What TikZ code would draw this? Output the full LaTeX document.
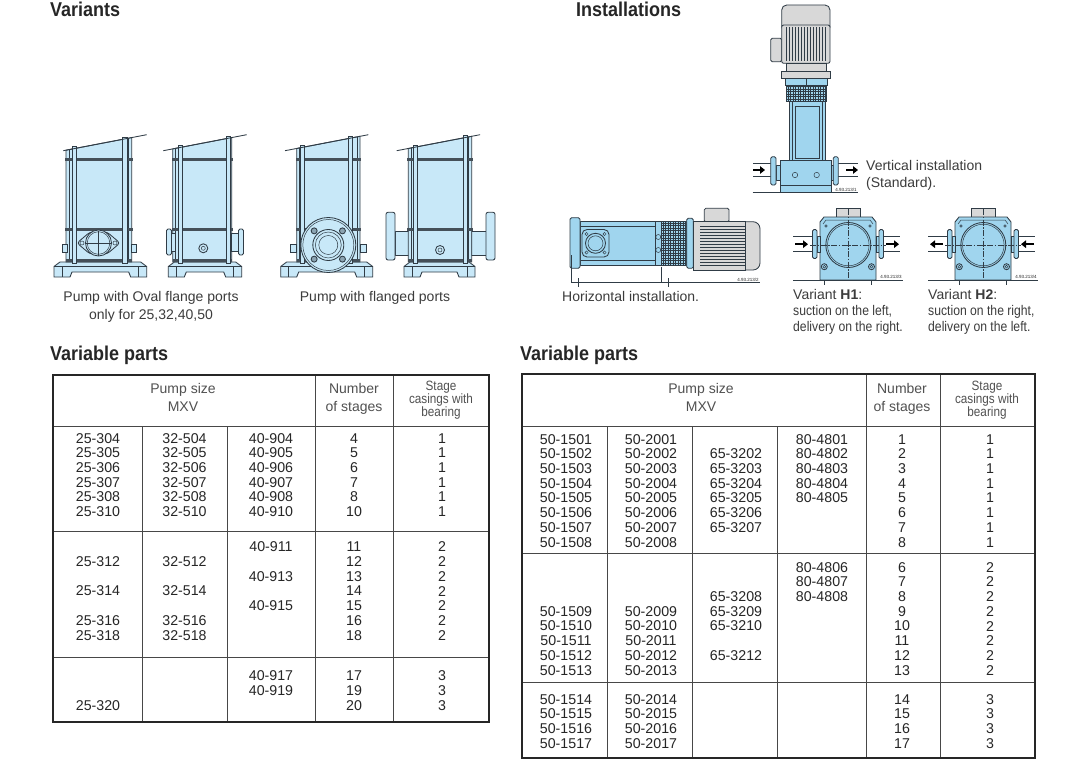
\documentclass[tikz,border=0pt]{standalone}
\usepackage{fontspec}
\setmainfont{Liberation Sans}
\newfontfamily\narrowfont[FakeStretch=0.87]{Liberation Sans}
\newfontfamily\headfont[FakeStretch=0.9]{Liberation Sans}
\usetikzlibrary{arrows.meta}

\definecolor{pumpblue}{RGB}{200,232,248}
\definecolor{instblue}{RGB}{160,213,238}
\definecolor{edgegray}{RGB}{48,60,70}
\definecolor{motorgray}{RGB}{216,216,216}
\definecolor{inkgray}{RGB}{38,38,38}

\tikzset{
  heading/.style={anchor=base west, inner sep=0pt, text=inkgray, font=\headfont\fontsize{20}{20}\selectfont\bfseries},
  caption/.style={anchor=base, inner sep=0pt, text=inkgray!90, font=\fontsize{14}{14}\selectfont},
  leftcaption/.style={caption, anchor=base west},
  narrowcaption/.style={leftcaption, font=\narrowfont\fontsize{14}{14}\selectfont},
  cell/.style={inner sep=0pt, text=inkgray, font=\fontsize{14.2}{14.2}\selectfont},
  headcell/.style={anchor=base, inner sep=0pt, text=inkgray!80, font=\fontsize{14}{14}\selectfont},
  stagecell/.style={headcell, font=\narrowfont\fontsize{13.5}{13.5}\selectfont},
  tinytag/.style={inner sep=0pt, text=inkgray, font=\fontsize{4.5}{4.5}\selectfont},
  tableframe/.style={draw=inkgray, line width=1.8pt},
  tablerule/.style={draw=inkgray!85, line width=0.9pt},
  pumpline/.style={draw=edgegray, line width=0.85pt},
  pumpthin/.style={draw=edgegray, line width=0.5pt},
  ringband/.style={fill=edgegray!90},
  flowarrow/.style={line width=2.4pt, -{Triangle[length=5pt, width=7.5pt]}},
  axisline/.style={draw=edgegray, line width=0.55pt, dash pattern=on 6pt off 1.5pt on 1.5pt off 1.5pt},
}

\begin{document}
\begin{tikzpicture}[x=1pt, y=-1pt]
\useasboundingbox[fill=white] (0,0) rectangle (1087,765);

% headings
\node[heading] (variants) at (50,16.5) {Variants};
\node[heading] (installations) at (576,16.5) {Installations};
\node[heading] (partsleft) at (50,360) {Variable parts};
\node[heading] (partsright) at (520,360) {Variable parts};

% ---------------- variants ----------------
% pipe stubs of the flanged side view (behind the barrel)
\filldraw[pumpline, fill=pumpblue] (395,231.7) rectangle (409,255);
\filldraw[pumpline, fill=pumpblue, rounded corners=2pt] (386,212.3) rectangle (395,260);
\filldraw[pumpline, fill=pumpblue] (471,231.7) rectangle (486,255);
\filldraw[pumpline, fill=pumpblue, rounded corners=2pt] (486,212.3) rectangle (495,260);

\foreach \cx/\bl/\br/\ra/\rb/\ba/\bb in {63.3/66/131.7/72/122.7/54/146.7, 163.3/172.7/231.7/178.3/226/168.3/241.7, 285/296.7/360/300/348.3/280.7/372.7, 396.7/408.3/471.7/413.3/463.3/404/475}{
  \filldraw[pumpline, fill=pumpblue] (\ba,266.5) -- (\ba+6,262) -- (\bb-6,262) -- (\bb,266.5) -- (\bb,277) -- (\bb-16,277) -- (\bb-18,272) -- (\ba+18,272) -- (\ba+16,277) -- (\ba,277) -- cycle;
  \draw[pumpthin] (\ba,266.5) -- (\bb,266.5) (\ba+8,266.5) -- (\ba+8,277) (\bb-8,266.5) -- (\bb-8,277);
  \filldraw[pumpline, fill=pumpblue] (\bl,{150.7-0.1918*(\bl-\cx)}) -- (\br,{150.7-0.1918*(\br-\cx)}) -- (\br,262) -- (\bl,262) -- cycle;
  \draw[pumpthin] (\bl+3,{150.7-0.1918*(\bl+3-\cx)}) -- (\bl+3,262) (\br-3,{150.7-0.1918*(\br-3-\cx)}) -- (\br-3,262);
  \fill[ringband] (\bl-1,157.8) rectangle (\br+1,161);
  \fill[ringband] (\bl-1,227.5) rectangle (\br+1,230.7);
  \fill[ringband] (\bl,258.5) rectangle (\br,262);
  \filldraw[pumpline, fill=pumpblue] (\ra,{148.5-0.1918*(\ra-\cx)}) rectangle (\ra+4.5,263);
  \filldraw[pumpline, fill=pumpblue] (\rb,{148.5-0.1918*(\rb-\cx)}) rectangle (\rb+4.5,263);
  \draw[pumpline] (\cx,150.7) -- (\cx+83.4,134.7);
}

% oval flange, front
\filldraw[pumpline, fill=pumpblue, rounded corners=3pt] (77,243) -- (90,232) -- (107,232) -- (120,243) -- (107,254) -- (90,254) -- cycle;
\filldraw[pumpline, fill=pumpblue] (98.5,243) circle (13);
\draw[pumpthin] (98.5,243) circle (11.3);
\draw[pumpthin] (98.5,230.5) -- (98.5,255.5) (86,243) -- (111,243);
\draw[pumpthin] (82,243) circle (2) (115,243) circle (2);
\filldraw[pumpline, fill=pumpblue] (62,244) rectangle (67,252);
\filldraw[pumpline, fill=pumpblue] (131.5,244) rectangle (136.5,252);

% oval flange, side
\filldraw[pumpline, fill=pumpblue] (171.5,233) rectangle (175,251);
\filldraw[pumpline, fill=pumpblue, rounded corners=1.5pt] (166.5,229) rectangle (171.5,255);
\filldraw[pumpline, fill=pumpblue] (231.7,233) rectangle (238.5,251);
\filldraw[pumpline, fill=pumpblue, rounded corners=1.5pt] (238.5,229) rectangle (243.5,255);
\filldraw[pumpline, fill=pumpblue] (203.3,248.3) circle (4.5);
\draw[pumpthin] (203.3,248.3) circle (2);

% round flange, front
\filldraw[pumpline, fill=pumpblue] (290,244) rectangle (296,252);
\filldraw[pumpline, fill=pumpblue] (360.5,244) rectangle (366.5,252);
\filldraw[pumpline, fill=pumpblue] (328.3,245) circle (27.5);
\draw[pumpthin] (328.3,245) circle (25.5);
\draw[pumpline] (328.3,245) circle (15.5);
\draw[pumpthin] (328.3,245) circle (13);
\draw[pumpthin] (328.3,245) circle (9.5);
\foreach \ang in {45,135,225,315}
  \filldraw[pumpline, fill=pumpblue!60!edgegray] (328.3,245) ++(\ang:20) circle (3);

% round flange, side
\filldraw[pumpline, fill=pumpblue] (440,250) circle (4.5);
\draw[pumpthin] (440,250) circle (2);

\node[caption] (ovalcap) at (151,301) {Pump with Oval flange ports};
\node[caption] (ovalnote) at (151,319) {only for 25,32,40,50};
\node[caption] (flangecap) at (375,301) {Pump with flanged ports};

% ---------------- vertical installation ----------------
\draw[pumpline] (753.3,163.3) -- (770.7,163.3) (753.3,176.7) -- (770.7,176.7);
\draw[pumpline] (838.3,163.3) -- (858.3,163.3) (838.3,176.7) -- (858.3,176.7);
\filldraw[pumpline, fill=motorgray, rounded corners=1.5pt] (770.7,38.3) rectangle (781.7,61.7);
\filldraw[pumpline, fill=motorgray, rounded corners=5pt] (781.7,5) rectangle (830,32);
\filldraw[pumpline, fill=motorgray, rounded corners=2pt] (781.7,25) rectangle (830,63.3);
\foreach \x in {786,789,...,827} \draw[pumpthin] (\x,27) -- (\x,61.5);
\filldraw[pumpline, fill=motorgray] (786.7,63.3) rectangle (826.7,71.7);
\filldraw[pumpline, fill=motorgray] (781.7,71.7) rectangle (830,78.3);
\filldraw[pumpline, fill=instblue] (785,78.3) rectangle (827.3,85);
\draw[pumpthin] (806,78.3) -- (806,85);
\fill[instblue] (786.7,85) rectangle (826.7,101.7);
\foreach \x in {788,790.5,...,826} \draw[pumpthin] (\x,85) -- (\x,101.7);
\foreach \y in {86.5,89,...,101} \draw[pumpthin] (786.7,\y) -- (826.7,\y);
\draw[pumpline] (786.7,85) rectangle (826.7,101.7);
\filldraw[pumpline, fill=instblue] (789.3,101.7) rectangle (825,163);
\draw[pumpthin] (795,106) rectangle (819,158);
\draw[pumpthin] (792,101.7) -- (792,163) (822.3,101.7) -- (822.3,163);
\filldraw[pumpline, fill=instblue] (776,165) rectangle (780,180);
\filldraw[pumpline, fill=instblue, rounded corners=1.5pt] (770.7,156.7) rectangle (776,185);
\filldraw[pumpline, fill=instblue] (831.7,165) rectangle (833.3,180);
\filldraw[pumpline, fill=instblue, rounded corners=1.5pt] (833.3,156.7) rectangle (838.3,185);
\filldraw[pumpline, fill=instblue] (780,160) rectangle (831.7,185);
\draw[pumpthin] (795,175) circle (2.7) (816.7,175) circle (2.7);
\filldraw[pumpline, fill=instblue] (780,185) rectangle (831.7,192.3);
\draw[pumpline] (752.7,192.3) -- (858.3,192.3);
\draw[flowarrow] (753,170) -- (765,170);
\draw[flowarrow] (846,170) -- (858,170);
\node[tinytag, anchor=south] (tag1) at (846,191.5) {4.93.213/1};
\node[leftcaption] (vertcap) at (866,171) {Vertical installation};
\node[leftcaption] (vertnote) at (866,187) {(Standard).};

% ---------------- horizontal installation ----------------
\filldraw[pumpline, fill=instblue] (580,221.7) rectangle (655,265);
\draw[pumpthin] (580,226) -- (655,226) (580,260.5) -- (655,260.5);
\filldraw[pumpline, fill=instblue, rounded corners=1.5pt] (570,217.7) rectangle (580,268.3);
\filldraw[pumpline, fill=instblue, rounded corners=5pt] (582,229.5) rectangle (609,257);
\draw[pumpline] (595.5,243.3) circle (10);
\draw[pumpthin] (595.5,243.3) circle (7.5);
\draw[pumpthin] (586.5,234) circle (1.6) (604.5,234) circle (1.6) (586.5,252.5) circle (1.6) (604.5,252.5) circle (1.6);
\filldraw[pumpline, fill=instblue] (655,221.7) rectangle (661.7,265);
\draw[pumpthin] (658.3,237) circle (2.5) (658.3,250) circle (2.5);
\fill[instblue] (661.7,221.7) rectangle (686.7,265);
\foreach \x in {663,665.5,...,686} \draw[pumpthin] (\x,221.7) -- (\x,265);
\foreach \y in {223,225.5,...,264} \draw[pumpthin] (661.7,\y) -- (686.7,\y);
\draw[pumpline] (661.7,221.7) rectangle (686.7,265);
\filldraw[pumpline, fill=instblue, rounded corners=1.5pt] (686.7,218.3) rectangle (693.3,268.3);
\filldraw[pumpline, fill=motorgray, rounded corners=1.5pt] (704.3,208.3) rectangle (729,222);
\filldraw[pumpline, fill=motorgray, rounded corners=7pt] (720,221.7) rectangle (760,270);
\filldraw[pumpline, fill=motorgray] (693.3,221.7) rectangle (745,270);
\foreach \y in {226,229,...,266} \draw[pumpthin] (700,\y) -- (745,\y);
\draw[pumpthin] (571,255) -- (571,282.3) (661.7,266.7) -- (661.7,282.3);
\draw[pumpthin] (571,282.3) -- (760,282.3);
\draw[pumpthin] (578.3,278.3) -- (578.3,286.7) (668.3,278.3) -- (668.3,286.7);
\node[tinytag, anchor=south] (tag2) at (748,281.5) {4.93.213/2};
\node[leftcaption] (horcap) at (562,301) {Horizontal installation.};

% ---------------- variants H1 and H2 ----------------
\foreach \dx/\sgn/\tag in {0/1/3, 135/-1/4}{
  \begin{scope}[shift={(\dx,0)}]
    \draw[pumpline] (793.3,236.7) -- (813,236.7) (793.3,251.7) -- (813,251.7);
    \draw[pumpline] (883.5,236.7) -- (900,236.7) (883.5,251.7) -- (900,251.7);
    \filldraw[pumpline, fill=motorgray] (836.7,208.3) rectangle (860,217);
    \filldraw[pumpline, fill=instblue] (820,280) -- (820,222) -- (824,217) -- (872,217) -- (876,222) -- (876,280) -- cycle;
    \draw[pumpthin] (823,224) -- (826,220) -- (870,220) -- (873,224);
    \draw[pumpthin] (826,226) circle (1.3) (870,226) circle (1.3) (832,233) circle (1.3) (864.6,233) circle (1.3) (832,257) circle (1.3) (864.6,257) circle (1.3);
    \filldraw[pumpline, fill=instblue] (848.3,245) circle (22.5);
    \draw[pumpthin] (848.3,245) circle (20.8);
    \draw[pumpline] (824.3,266.7) circle (3) (871.5,266.7) circle (3);
    \draw[pumpthin] (824.3,266.7) circle (1.4) (871.5,266.7) circle (1.4);
    \filldraw[pumpline, fill=instblue] (817,236) rectangle (820,252);
    \filldraw[pumpline, fill=instblue, rounded corners=1.5pt] (812.5,229.5) rectangle (817,258.5);
    \filldraw[pumpline, fill=instblue] (876,236) rectangle (879,252);
    \filldraw[pumpline, fill=instblue, rounded corners=1.5pt] (879,229.5) rectangle (883.5,258.5);
    \draw[axisline] (810,245) -- (886,245);
    \draw[axisline] (848.3,209) -- (848.3,279);
    \draw[flowarrow] ({801.5-6.5*\sgn},244.2) -- ({801.5+6.5*\sgn},244.2);
    \draw[flowarrow] ({892.5-6.5*\sgn},244.2) -- ({892.5+6.5*\sgn},244.2);
    \draw[pumpline] (793.3,280) -- (903,280);
    \draw[pumpthin] (824.3,280) -- (824.3,285) (871.5,280) -- (871.5,285);
    \node[tinytag, anchor=south] (tag\tag) at (891,279) {4.93.213/\tag};
  \end{scope}
}
\node[leftcaption] (hone) at (793,299) {Variant \textbf{H1}:};
\node[narrowcaption] (honea) at (793,315) {suction on the left,};
\node[narrowcaption] (honeb) at (793,331) {delivery on the right.};
\node[leftcaption] (htwo) at (928,299) {Variant \textbf{H2}:};
\node[narrowcaption] (htwoa) at (928,315) {suction on the right,};
\node[narrowcaption] (htwob) at (928,331) {delivery on the left.};

% ---------------- left table ----------------
\draw[tablerule] (53,426) -- (489,426);
\draw[tablerule] (315,375) -- (315,722) (393,375) -- (393,722);
\draw[tablerule] (142,426) -- (142,722) (227,426) -- (227,722);
\draw[tablerule] (53,531) -- (489,531) (53,657) -- (489,657);
\draw[tableframe] (53,375) rectangle (489,722);
\node[headcell] (lsize) at (183,393) {Pump size};
\node[headcell] (lmxv) at (183,411) {MXV};
\node[headcell] (lnum) at (354,393) {Number};
\node[headcell] (lof) at (354,411) {of stages};
\node[stagecell] (lstage) at (441,390) {Stage};
\node[stagecell] (lcas) at (441,403) {casings with};
\node[stagecell] (lbear) at (441,416) {bearing};

\foreach \a/\b/\c/\n [count=\i from 0] in {25-304/32-504/40-904/4, 25-305/32-505/40-905/5, 25-306/32-506/40-906/6, 25-307/32-507/40-907/7, 25-308/32-508/40-908/8, 25-310/32-510/40-910/10}{
  \node[cell] (la-\i) at (98,{438.3+14.7*\i}) {\a};
  \node[cell] (lb-\i) at (184.5,{438.3+14.7*\i}) {\b};
  \node[cell] (lc-\i) at (271,{438.3+14.7*\i}) {\c};
  \node[cell] (ld-\i) at (354,{438.3+14.7*\i}) {\n};
  \node[cell] (le-\i) at (442,{438.3+14.7*\i}) {1};
}
\foreach \r/\t in {1/25-312, 3/25-314, 5/25-316, 6/25-318}
  \node[cell] (lma-\r) at (98,{547+14.7*\r}) {\t};
\foreach \r/\t in {1/32-512, 3/32-514, 5/32-516, 6/32-518}
  \node[cell] (lmb-\r) at (184.5,{547+14.7*\r}) {\t};
\foreach \r/\t in {0/40-911, 2/40-913, 4/40-915}
  \node[cell] (lmc-\r) at (271,{547+14.7*\r}) {\t};
\foreach \r/\t in {0/11, 1/12, 2/13, 3/14, 4/15, 5/16, 6/18}{
  \node[cell] (lmd-\r) at (354,{547+14.7*\r}) {\t};
  \node[cell] (lme-\r) at (442,{547+14.7*\r}) {2};
}
\node[cell] (lza-2) at (98,{676+14.7*2}) {25-320};
\foreach \r/\t in {0/40-917, 1/40-919}
  \node[cell] (lzc-\r) at (271,{676+14.7*\r}) {\t};
\foreach \r/\t in {0/17, 1/19, 2/20}{
  \node[cell] (lzd-\r) at (354,{676+14.7*\r}) {\t};
  \node[cell] (lze-\r) at (442,{676+14.7*\r}) {3};
}

% ---------------- right table ----------------
\draw[tablerule] (522,426) -- (1035,426);
\draw[tablerule] (866,374) -- (866,758) (940,374) -- (940,758);
\draw[tablerule] (607,426) -- (607,758) (692,426) -- (692,758) (777,426) -- (777,758);
\draw[tablerule] (522,553) -- (1035,553) (522,682) -- (1035,682);
\draw[tableframe] (522,374) rectangle (1035,758);
\node[headcell] (rsize) at (701,393) {Pump size};
\node[headcell] (rmxv) at (701,411) {MXV};
\node[headcell] (rnum) at (902,393) {Number};
\node[headcell] (rof) at (902,411) {of stages};
\node[stagecell] (rstage) at (987,390) {Stage};
\node[stagecell] (rcas) at (987,403) {casings with};
\node[stagecell] (rbear) at (987,416) {bearing};

\foreach \r in {1,...,8}{
  \node[cell] (ra-\r) at (566,{439.3+14.7*(\r-1)}) {50-150\r};
  \node[cell] (rb-\r) at (651,{439.3+14.7*(\r-1)}) {50-200\r};
  \node[cell] (re-\r) at (902,{439.3+14.7*(\r-1)}) {\r};
  \node[cell] (rf-\r) at (990,{439.3+14.7*(\r-1)}) {1};
}
\foreach \r in {2,...,7}
  \node[cell] (rc-\r) at (736,{439.3+14.7*(\r-1)}) {65-320\r};
\foreach \r in {1,...,5}
  \node[cell] (rd-\r) at (822,{439.3+14.7*(\r-1)}) {80-480\r};

\foreach \r/\t/\u in {3/50-1509/50-2009, 4/50-1510/50-2010, 5/50-1511/50-2011, 6/50-1512/50-2012, 7/50-1513/50-2013}{
  \node[cell] (rma-\r) at (566,{567.3+14.7*\r}) {\t};
  \node[cell] (rmb-\r) at (651,{567.3+14.7*\r}) {\u};
}
\foreach \r/\t in {2/65-3208, 3/65-3209, 4/65-3210, 6/65-3212}
  \node[cell] (rmc-\r) at (736,{567.3+14.7*\r}) {\t};
\foreach \r/\t in {0/80-4806, 1/80-4807, 2/80-4808}
  \node[cell] (rmd-\r) at (822,{567.3+14.7*\r}) {\t};
\foreach \r/\t in {0/6, 1/7, 2/8, 3/9, 4/10, 5/11, 6/12, 7/13}{
  \node[cell] (rme-\r) at (902,{567.3+14.7*\r}) {\t};
  \node[cell] (rmf-\r) at (990,{567.3+14.7*\r}) {2};
}
\foreach \r/\t/\u/\n in {0/50-1514/50-2014/14, 1/50-1515/50-2015/15, 2/50-1516/50-2016/16, 3/50-1517/50-2017/17}{
  \node[cell] (rza-\r) at (566,{699.3+14.7*\r}) {\t};
  \node[cell] (rzb-\r) at (651,{699.3+14.7*\r}) {\u};
  \node[cell] (rze-\r) at (902,{699.3+14.7*\r}) {\n};
  \node[cell] (rzf-\r) at (990,{699.3+14.7*\r}) {3};
}
\end{tikzpicture}
\end{document}
